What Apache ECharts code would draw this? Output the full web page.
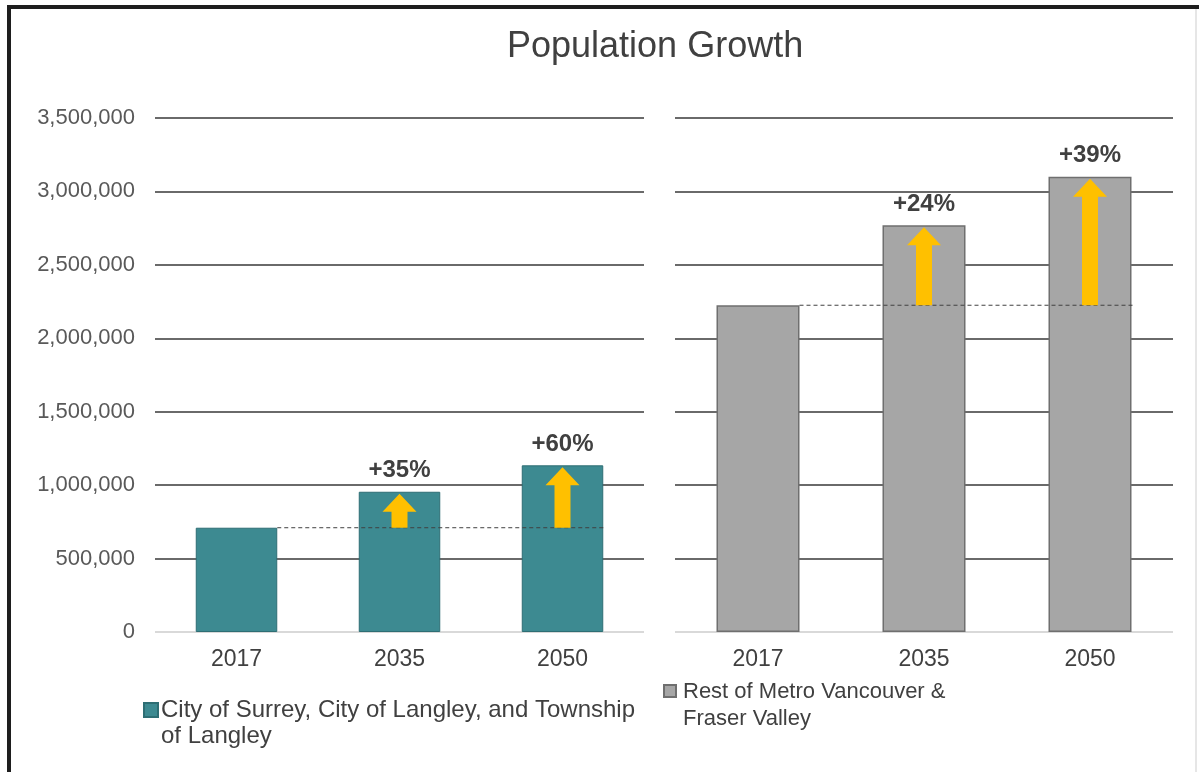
<!DOCTYPE html>
<html>
<head>
<meta charset="utf-8">
<script src="https://cdn.jsdelivr.net/npm/echarts@6/dist/echarts.min.js"></script>
<style>
html,body{margin:0;padding:0;background:#fff;}
#chart{width:1199px;height:772px;}
</style>
</head>
<body>
<div id="chart"></div>
<script>
// ---- data ----
var categories = ['2017', '2035', '2050'];
var surreyValues = [710000, 955000, 1135000];
var restValues = [2225000, 2770000, 3100000];
var surreyLabels = ['', '+35%', '+60%'];
var restLabels = ['', '+24%', '+39%'];
var yTicks = [0, 500000, 1000000, 1500000, 2000000, 2500000, 3000000, 3500000];
var surreyName = 'City of Surrey, City of Langley, and Township\nof Langley';
var restName = 'Rest of Metro Vancouver &\nFraser Valley';

var FONT = '"Liberation Sans", Arial, sans-serif';
var chart = echarts.init(document.getElementById('chart'), null, {renderer: 'canvas'});

function arrowData(vals) {
  var out = [];
  for (var i = 1; i < vals.length; i++) out.push([i, vals[0], vals[i]]);
  return out;
}
function renderArrow(params, api) {
  var base = api.coord([api.value(0), api.value(1)]);
  var top = api.coord([api.value(0), api.value(2)]);
  var x = base[0], y0 = base[1], y1 = top[1] + 2;
  var hw = 17, sw = 8, hh = 18;
  return {
    type: 'polygon',
    shape: {points: [[x - sw, y0], [x - sw, y1 + hh], [x - hw, y1 + hh], [x, y1], [x + hw, y1 + hh], [x + sw, y1 + hh], [x + sw, y0]]},
    style: {fill: '#FFC000'}
  };
}
function renderDash(params, api) {
  var bw = api.size([1, 0])[0];
  var p0 = api.coord([api.value(0), api.value(2)]);
  var p1 = api.coord([api.value(1), api.value(2)]);
  return {
    type: 'line',
    shape: {x1: p0[0] + bw * 0.25, y1: p0[1], x2: p1[0] + bw * 0.25 + 2, y2: p1[1]},
    style: {stroke: '#404040', lineWidth: 1, lineDash: [4, 3]}
  };
}
var gridLineColors = ['#d9d9d9', '#6a6a6a', '#6a6a6a', '#6a6a6a', '#6a6a6a', '#6a6a6a', '#6a6a6a', '#6a6a6a'];

function yAxis(idx, showLabel) {
  return {
    type: 'value', gridIndex: idx,
    min: yTicks[0], max: yTicks[yTicks.length - 1], interval: yTicks[1] - yTicks[0],
    axisLine: {show: false}, axisTick: {show: false},
    axisLabel: {show: showLabel, margin: 20, color: '#595959', fontSize: 22, fontFamily: FONT,
      formatter: function (v) { return v.toLocaleString('en-US'); }},
    splitLine: {show: true, lineStyle: {color: gridLineColors, width: 2}}
  };
}
function xAxis(idx) {
  return {
    type: 'category', gridIndex: idx, data: categories,
    axisLine: {show: false}, axisTick: {show: false},
    axisLabel: {margin: 16, color: '#404040', fontSize: 23, fontFamily: FONT}
  };
}

var option = {
  backgroundColor: '#ffffff',
  animation: false,
  title: {
    text: 'Population Growth', left: 502, top: 24,
    textStyle: {fontSize: 36, fontWeight: 'normal', color: '#404040', fontFamily: FONT}
  },
  grid: [
    {left: 155, top: 118, width: 489, height: 514},
    {left: 675, top: 118, width: 498, height: 514}
  ],
  xAxis: [xAxis(0), xAxis(1)],
  yAxis: [yAxis(0, true), yAxis(1, false)],
  legend: [
    {
      data: [{name: surreyName, icon: 'path://M0,0L14,0L14,14L0,14Z M0,40'}],
      left: 143, top: 697, padding: 0, itemWidth: 14, itemHeight: 40, itemGap: 0,
      selectedMode: false,
      textStyle: {fontSize: 24, lineHeight: 26, color: '#404040', fontFamily: FONT, padding: [0, 0, 0, -2]}
    },
    {
      data: [{name: restName, icon: 'path://M0,0L12,0L12,12L0,12Z M0,40'}],
      left: 663, top: 678, padding: 0, itemWidth: 12, itemHeight: 40, itemGap: 0,
      selectedMode: false,
      textStyle: {fontSize: 22, lineHeight: 27, color: '#404040', fontFamily: FONT, padding: [0, 0, 0, 2]}
    }
  ],
  graphic: [
    {type: 'rect', shape: {x: 7, y: 5, width: 1192, height: 4}, style: {fill: '#1e1e1e'}, z: 100},
    {type: 'rect', shape: {x: 7, y: 5, width: 4, height: 767}, style: {fill: '#1e1e1e'}, z: 100},
    {type: 'rect', shape: {x: 1195, y: 9, width: 2, height: 763}, style: {fill: '#e6e6e6'}, z: 100}
  ],
  series: [
    {
      name: surreyName, type: 'bar', xAxisIndex: 0, yAxisIndex: 0, data: surreyValues,
      barWidth: '50%',
      itemStyle: {color: '#3d8a91', borderColor: '#2e6e74', borderWidth: 1},
      label: {show: true, position: 'top', distance: 9, fontSize: 24, fontWeight: 'bold', color: '#404040', fontFamily: FONT,
        formatter: function (p) { return surreyLabels[p.dataIndex]; }},
      z: 2
    },
    {
      name: restName, type: 'bar', xAxisIndex: 1, yAxisIndex: 1, data: restValues,
      barWidth: '50%',
      itemStyle: {color: '#a6a6a6', borderColor: '#6f6f6f', borderWidth: 1.5},
      label: {show: true, position: 'top', distance: 9, fontSize: 24, fontWeight: 'bold', color: '#404040', fontFamily: FONT,
        formatter: function (p) { return restLabels[p.dataIndex]; }},
      z: 2
    },
    {
      type: 'custom', xAxisIndex: 0, yAxisIndex: 0, renderItem: renderDash,
      data: [[0, categories.length - 1, surreyValues[0]]], z: 4, silent: true
    },
    {
      type: 'custom', xAxisIndex: 1, yAxisIndex: 1, renderItem: renderDash,
      data: [[0, categories.length - 1, restValues[0]]], z: 4, silent: true
    },
    {
      type: 'custom', xAxisIndex: 0, yAxisIndex: 0, renderItem: renderArrow,
      data: arrowData(surreyValues), z: 5, silent: true
    },
    {
      type: 'custom', xAxisIndex: 1, yAxisIndex: 1, renderItem: renderArrow,
      data: arrowData(restValues), z: 5, silent: true
    }
  ]
};
chart.setOption(option);
</script>
</body>
</html>
